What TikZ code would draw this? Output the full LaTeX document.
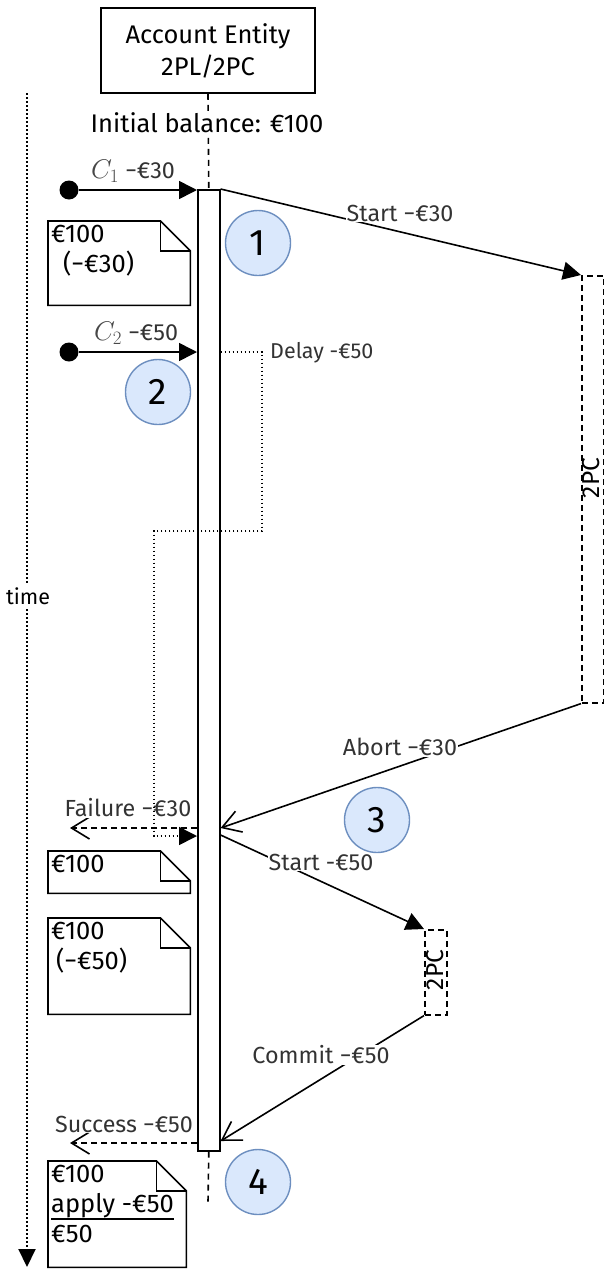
\RequirePackage{fix-cm}
\documentclass[tikz,border=0pt]{standalone}
\usepackage{fontspec}
\setmainfont{Fira Sans}
\usetikzlibrary{arrows.meta,calc}
\definecolor{stepfill}{HTML}{DAE8FC}
\definecolor{stepline}{HTML}{6C8EBF}
\definecolor{lbltext}{HTML}{333333}
\newcommand\fmain{\fontsize{25.5}{30}\selectfont}
\newcommand\fentity{\fontsize{25.5}{32}\selectfont}
\newcommand\flbl{\fontsize{23.3}{27}\selectfont}
\newcommand\fsmall{\fontsize{21.5}{25}\selectfont}
\newcommand\fnum{\fontsize{37}{40}\selectfont}
\newcommand\fclient{\fontsize{27}{30}\selectfont}
% thick underline used in the last note
\newcommand\thickul[1]{\vtop{\hbox{#1}\kern0.4pt\hrule height 1.8pt}}
% note with a folded corner: name, x, y, width, height, text
\newcommand\notebox[6]{%
  \node[noteframe, minimum width=#4, minimum height=#5] (#1) at (#2,#3) {};
  \draw[noteline] (#1.north west) -- ([xshift=-30pt]#1.north east)
     -- ([yshift=-30pt]#1.north east) -- (#1.south east) -- (#1.south west) -- cycle;
  \draw[noteline] ([xshift=-30pt]#1.north east) -- ([xshift=-30pt,yshift=-30pt]#1.north east)
     -- ([yshift=-30pt]#1.north east);
  \node[notetext] (#1-text) at (#1.north west) {#6};
}
\begin{document}
\begin{tikzpicture}[x=1pt,y=-1pt,
  every node/.style={font=\fmain},
  entity/.style={draw, line width=1.6pt, align=center, inner sep=0pt, font=\fentity},
  bar/.style={draw, fill=white, line width=1.6pt, inner sep=0pt, anchor=north west},
  tpc/.style={draw, dashed, dash pattern=on 6pt off 4pt, line width=1.6pt, inner sep=0pt, anchor=north west},
  noteframe/.style={draw=none, inner sep=0pt, anchor=north west},
  noteline/.style={line width=1.6pt, line join=miter},
  notetext/.style={anchor=north west, align=left, inner xsep=3pt, inner ysep=4pt, font=\fmain},
  stepmark/.style={circle, draw=stepline, fill=stepfill, line width=1.4pt, minimum size=65pt, inner sep=0pt, font=\fnum},
  dot/.style={circle, fill=black, minimum size=19pt, inner sep=0pt},
  flow/.style={line width=1.6pt, -{Triangle[length=18pt,width=18pt]}},
  reply/.style={line width=1.6pt, -{Straight Barb[length=18pt,width=22pt,line width=1.6pt]}},
  replydash/.style={reply, dash pattern=on 6pt off 4pt},
  delayline/.style={line width=1.6pt, dash pattern=on 1.6pt off 2.4pt, -{Triangle[length=18pt,width=18pt]}},
  lifeline/.style={line width=1.6pt, dash pattern=on 6pt off 5pt},
  timeline/.style={line width=2pt, dash pattern=on 2pt off 2pt, -{Triangle[length=18pt,width=17pt]}},
  lbl/.style={fill=white, inner sep=1pt, text=lbltext, font=\flbl},
  clientlbl/.style={inner sep=0pt, text=lbltext, font=\flbl},
]
\useasboundingbox (0,0) rectangle (604,1269);

% time axis
\coordinate (t0) at (27,93);
\coordinate (t1) at (27,1267);
\draw[timeline] (t0) -- (t1);
\node[fill=white, inner sep=2pt, font=\fsmall] (timelbl) at (28,596) {time};

% entity and its activation
\node[entity, minimum width=214pt, minimum height=85pt] (acct) at (208,50.5) {Account Entity\\2PL/2PC};
\node[bar, minimum width=22pt, minimum height=961pt] (bar) at (197,189) {};
\draw[lifeline] (acct.south) -- (bar.north);
\node[fill=white, inner sep=2pt] (init) at (207,123) {Initial balance: €100};
\coordinate (lifeend) at (208,1202);
\draw[lifeline] (bar.south) -- (lifeend);

% 2PC rounds
\node[tpc, minimum width=22pt, minimum height=427pt] (tpc1) at (581,275) {};
\node[rotate=90, inner sep=0pt, font=\fontsize{24.5}{28}\selectfont] (tpc1l) at (591,478) {2PC};
\node[tpc, minimum width=22pt, minimum height=85pt] (tpc2) at (424,929) {};
\node[rotate=90, inner sep=0pt, font=\fontsize{24.5}{28}\selectfont] (tpc2l) at (435,970) {2PC};

% levels on the activation
\coordinate (ab) at (0,828);
\coordinate (st2) at (0,835);
\coordinate (cm) at (0,1141);
\coordinate (sc) at (0,1143);
\coordinate (fl) at (70,828);
\coordinate (sl) at (70,1143);

% clients
\node[dot] (c1) at (69,190) {};
\draw[flow] (c1) -- (c1 -| bar.west);
\node[clientlbl] (c1l) at (133,171) {{\fclient\color{black!72}$C_1$}\ −€30};
\node[dot] (c2) at (69,352) {};
\draw[flow] (c2) -- (c2 -| bar.west);
\node[clientlbl] (c2l) at (136,333) {{\fclient\color{black!72}$C_2$}\ −€50};

% first transaction
\draw[flow] (bar.north east) -- (tpc1.north west);
\node[lbl] (startA) at (400,213) {Start −€30};
\draw[reply] (tpc1.south west) -- (bar.east |- ab);
\node[lbl] (abortA) at (400,747) {Abort −€30};
\draw[replydash] (bar.west |- ab) -- (fl);
\node[lbl] (failA) at (128,808) {Failure −€30};

% delayed second transaction
\coordinate (dl1) at (262,352);
\coordinate (dl2) at (262,531);
\coordinate (dl3) at (154,531);
\coordinate (dl4) at (154,836);
\draw[delayline] (bar.east |- dl1) -- (dl1) -- (dl2) -- (dl3) -- (dl4) -- (bar.west |- dl4);
\node[anchor=west, inner sep=1pt, text=lbltext, font=\fsmall] (delayl) at (269,353) {Delay -€50};

\draw[flow] (bar.east |- st2) -- (tpc2.north west);
\node[lbl] (startB) at (321,862) {Start -€50};
\draw[reply] (tpc2.south west) -- (bar.east |- cm);
\node[lbl] (commitB) at (321,1055) {Commit −€50};
\draw[replydash] (bar.west |- sc) -- (sl);
\node[lbl] (succB) at (124,1124) {Success −€50};

% step markers
\node[stepmark] (s1) at (258,243) {1};
\node[stepmark] (s2) at (158,392) {2};
\node[stepmark] (s3) at (377,820) {3};
\node[stepmark] (s4) at (258,1182) {4};

% balance notes
\notebox{n1}{48}{221}{142pt}{84pt}{€100\\\hspace{12pt}(−€30)}
\notebox{n2}{48}{851}{142pt}{42pt}{€100}
\notebox{n3}{48}{918}{142pt}{96pt}{€100\\\hspace{5pt}(−€50)}
\notebox{n4}{48}{1161}{138pt}{106pt}{€100\\\thickul{apply -€50}\\€50}
\end{tikzpicture}
\end{document}
